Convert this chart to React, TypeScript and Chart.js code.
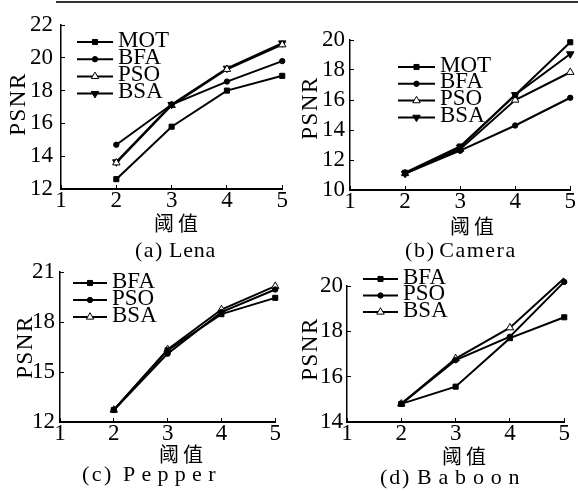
import { useEffect, useRef } from 'react';
import { Chart, registerables } from 'chart.js';

Chart.register(...registerables);

// ---------- data ----------
const thresholds = [2, 3, 4, 5];

// (a) Lena
const lenaMOT = [12.6, 15.8, 18.0, 18.9];
const lenaBFA = [14.7, 17.15, 18.55, 19.8];
const lenaPSO = [13.6, 17.1, 19.3, 20.8];
const lenaBSA = [13.65, 17.15, 19.36, 20.9];

// (b) Camera
const cameraMOT = [11.15, 12.9, 16.33, 19.85];
const cameraBFA = [11.1, 12.62, 14.3, 16.15];
const cameraPSO = [11.1, 12.72, 16.0, 17.85];
const cameraBSA = [11.1, 12.85, 16.35, 19.07];

// (c) Pepper
const pepperBFA = [12.72, 16.3, 18.47, 19.45];
const pepperPSO = [12.72, 16.1, 18.6, 19.95];
const pepperBSA = [12.72, 16.35, 18.75, 20.15];

// (d) Baboon
const baboonBFA = [14.8, 15.56, 17.7, 18.62];
const baboonPSO = [14.8, 16.73, 17.76, 20.18];
const baboonBSA = [14.8, 16.8, 18.16, 20.34];

const xTitle = '阈值';
const yTitle = 'PSNR';

// ---------- styles ----------
const SERIF = '"Liberation Serif", "Times New Roman", serif';
const CJK = '"Noto Sans CJK SC", sans-serif';

type MarkerStyle = { pointStyle: string; rotation: number; radius: number; fill: string };
const SQUARE: MarkerStyle = { pointStyle: 'rect', rotation: 0, radius: 3.6, fill: '#000' };
const DOT: MarkerStyle = { pointStyle: 'circle', rotation: 0, radius: 2.7, fill: '#000' };
const TRI_OPEN: MarkerStyle = { pointStyle: 'triangle', rotation: 0, radius: 4.3, fill: '#fff' };
const TRI_DOWN: MarkerStyle = { pointStyle: 'triangle', rotation: 180, radius: 4.3, fill: '#000' };

type Series = { label: string; values: number[]; marker: MarkerStyle };
type Caption = { prefix: string; name: string; left: number; y: number; s1: number; gap: number; s2: number };
type Panel = {
  id: string;
  plot: { left: number; top: number; right: number; bottom: number };
  yMin: number; yMax: number; yStep: number; yPad: number;
  series: Series[];
  legend: { x: number; y: number; row: number; len: number };
  caption: Caption;
  xtX: number; xtY: number; ytX: number; ytY: number;
};

const panels: Panel[] = [
  {
    id: 'a', plot: { left: 61, top: 25, right: 283, bottom: 189 },
    yMin: 12, yMax: 22, yStep: 2, yPad: 12,
    series: [
      { label: 'MOT', values: lenaMOT, marker: SQUARE },
      { label: 'BFA', values: lenaBFA, marker: DOT },
      { label: 'PSO', values: lenaPSO, marker: TRI_OPEN },
      { label: 'BSA', values: lenaBSA, marker: TRI_DOWN },
    ],
    legend: { x: 16, y: 17, row: 17.2, len: 36 },
    caption: { prefix: '(a)', name: 'Lena', left: 135, y: 250, s1: 1.5, gap: 5, s2: 0.8 },
    xtX: 178, xtY: 223, ytX: 17, ytY: 104,
  },
  {
    id: 'b', plot: { left: 350, top: 40, right: 571, bottom: 190 },
    yMin: 10, yMax: 20, yStep: 2, yPad: 9,
    series: [
      { label: 'MOT', values: cameraMOT, marker: SQUARE },
      { label: 'BFA', values: cameraBFA, marker: DOT },
      { label: 'PSO', values: cameraPSO, marker: TRI_OPEN },
      { label: 'BSA', values: cameraBSA, marker: TRI_DOWN },
    ],
    legend: { x: 48, y: 27, row: 16.8, len: 37 },
    caption: { prefix: '(b)', name: 'Camera', left: 405, y: 250, s1: 1.7, gap: 3.5, s2: 1.5 },
    xtX: 474, xtY: 226, ytX: 309, ytY: 108,
  },
  {
    id: 'c', plot: { left: 60, top: 272, right: 276, bottom: 422 },
    yMin: 12, yMax: 21, yStep: 3, yPad: 9,
    series: [
      { label: 'BFA', values: pepperBFA, marker: SQUARE },
      { label: 'PSO', values: pepperPSO, marker: DOT },
      { label: 'BSA', values: pepperBSA, marker: TRI_OPEN },
    ],
    legend: { x: 13, y: 11, row: 17, len: 34 },
    caption: { prefix: '(c)', name: 'Pepper', left: 82, y: 474, s1: 2.5, gap: 9, s2: 6.3 },
    xtX: 183, xtY: 454, ytX: 24, ytY: 347,
  },
  {
    id: 'd', plot: { left: 347, top: 286, right: 565, bottom: 422 },
    yMin: 14, yMax: 20, yStep: 2, yPad: 8,
    series: [
      { label: 'BFA', values: baboonBFA, marker: SQUARE },
      { label: 'PSO', values: baboonPSO, marker: DOT },
      { label: 'BSA', values: baboonBSA, marker: TRI_OPEN },
    ],
    legend: { x: 16, y: -7, row: 16.5, len: 35 },
    caption: { prefix: '(d)', name: 'Baboon', left: 380, y: 477, s1: 1.8, gap: 6, s2: 6.8 },
    xtX: 466, xtY: 456, ytX: 309, ytY: 349,
  },
];

// margins of each canvas around its plot area
const M = { left: 55, top: 26, right: 7, bottom: 36 };

function drawMarker(ctx: CanvasRenderingContext2D, m: MarkerStyle, x: number, y: number) {
  ctx.save();
  ctx.fillStyle = m.fill;
  ctx.strokeStyle = '#000';
  ctx.lineWidth = 1;
  ctx.beginPath();
  if (m.pointStyle === 'rect') {
    const s = Math.SQRT1_2 * m.radius;
    ctx.rect(x - s, y - s, 2 * s, 2 * s);
  } else if (m.pointStyle === 'circle') {
    ctx.arc(x, y, m.radius, 0, Math.PI * 2);
  } else {
    let rad = (m.rotation * Math.PI) / 180;
    ctx.moveTo(x + Math.sin(rad) * m.radius, y - Math.cos(rad) * m.radius);
    rad += (2 * Math.PI) / 3;
    ctx.lineTo(x + Math.sin(rad) * m.radius, y - Math.cos(rad) * m.radius);
    rad += (2 * Math.PI) / 3;
    ctx.lineTo(x + Math.sin(rad) * m.radius, y - Math.cos(rad) * m.radius);
    ctx.closePath();
  }
  ctx.fill();
  ctx.stroke();
  ctx.restore();
}

const lineLegend = {
  id: 'lineLegend',
  afterDatasetsDraw(chart: any, _args: any, opts: any) {
    const ctx: CanvasRenderingContext2D = chart.ctx;
    const { x, y, row, len } = opts;
    chart.data.datasets.forEach((ds: any, i: number) => {
      const lx = chart.chartArea.left + x;
      const ly = chart.chartArea.top + y + i * row;
      ctx.save();
      ctx.strokeStyle = '#000';
      ctx.lineWidth = 2;
      ctx.beginPath();
      ctx.moveTo(lx, ly);
      ctx.lineTo(lx + len, ly);
      ctx.stroke();
      drawMarker(ctx, ds.marker, lx + len / 2, ly);
      ctx.fillStyle = '#000';
      ctx.font = `23px ${SERIF}`;
      ctx.textBaseline = 'middle';
      ctx.textAlign = 'left';
      ctx.fillText(ds.label, lx + len + 5, ly - 1.5);
      ctx.restore();
    });
  },
};

function makeChart(canvas: HTMLCanvasElement, p: Panel) {
  const tickFont = { family: SERIF, size: 23 };
  return new Chart(canvas, {
    type: 'line',
    data: {
      datasets: p.series.map((s) => ({
        label: s.label,
        data: thresholds.map((t, i) => ({ x: t, y: s.values[i] })),
        borderColor: '#000',
        borderWidth: 2,
        pointStyle: s.marker.pointStyle,
        pointRotation: s.marker.rotation,
        pointRadius: s.marker.radius,
        pointBackgroundColor: s.marker.fill,
        pointBorderColor: '#000',
        pointBorderWidth: 1,
        tension: 0,
        clip: false,
        marker: s.marker,
      })) as any,
    },
    options: {
      animation: false,
      responsive: false,
      maintainAspectRatio: false,
      events: [],
      layout: { padding: { top: M.top, right: M.right, left: 0, bottom: 0 } },
      plugins: {
        legend: { display: false },
        tooltip: { enabled: false },
        lineLegend: p.legend,
      } as any,
      scales: {
        x: {
          type: 'linear',
          min: 1,
          max: 5,
          afterFit: (s: any) => { s.height = M.bottom; },
          ticks: { stepSize: 1, padding: 2, color: '#000', font: tickFont, maxRotation: 0, autoSkip: false },
          grid: { drawOnChartArea: false, drawTicks: true, tickLength: -4, color: '#000', lineWidth: 1 },
          border: { display: true, color: '#000', width: 2 },
        },
        y: {
          type: 'linear',
          min: p.yMin,
          max: p.yMax,
          afterFit: (s: any) => { s.width = M.left; },
          ticks: { stepSize: p.yStep, padding: p.yPad, color: '#000', font: tickFont, autoSkip: false },
          grid: { drawOnChartArea: false, drawTicks: true, tickLength: -4, color: '#000', lineWidth: 1 },
          border: { display: true, color: '#000', width: 1.5 },
        },
      },
    },
    plugins: [lineLegend],
  } as any);
}

export default function App() {
  const refs = useRef<(HTMLCanvasElement | null)[]>([]);

  useEffect(() => {
    document.body.style.margin = '0';
    const charts = panels.map((p, i) => makeChart(refs.current[i] as HTMLCanvasElement, p));
    return () => charts.forEach((c) => c.destroy());
  }, []);

  return (
    <div style={{ position: 'relative', width: 578, height: 491, background: '#fff', overflow: 'hidden' }}>
      <div style={{ position: 'absolute', left: 56, top: 1, width: 522, height: 2, background: '#333' }} />
      {panels.map((p, i) => {
        const w = p.plot.right - p.plot.left + M.left + M.right;
        const h = p.plot.bottom - p.plot.top + M.top + M.bottom;
        return (
          <canvas
            key={p.id}
            ref={(el) => { refs.current[i] = el; }}
            width={w}
            height={h}
            style={{ position: 'absolute', left: p.plot.left - M.left, top: p.plot.top - M.top, width: w, height: h }}
          />
        );
      })}
      {panels.map((p) => (
        <div key={p.id + 'txt'}>
          <div style={{ position: 'absolute', left: p.xtX, top: p.xtY, transform: 'translate(-50%, -50%)', fontFamily: CJK, fontSize: 20, lineHeight: 1, letterSpacing: 4, whiteSpace: 'nowrap', color: '#000' }}>{xTitle}</div>
          <div style={{ position: 'absolute', left: p.ytX, top: p.ytY, transform: 'translate(-50%, -50%) rotate(-90deg)', fontFamily: SERIF, fontSize: 23, lineHeight: 1, letterSpacing: 1.5, whiteSpace: 'nowrap', color: '#000' }}>{yTitle}</div>
          <div style={{ position: 'absolute', left: p.caption.left, top: p.caption.y, transform: 'translateY(-50%)', fontFamily: SERIF, fontSize: 22, lineHeight: 1, whiteSpace: 'nowrap', color: '#000' }}>
            <span style={{ letterSpacing: p.caption.s1 }}>{p.caption.prefix}</span>
            <span style={{ marginLeft: p.caption.gap, letterSpacing: p.caption.s2 }}>{p.caption.name}</span>
          </div>
        </div>
      ))}
    </div>
  );
}
